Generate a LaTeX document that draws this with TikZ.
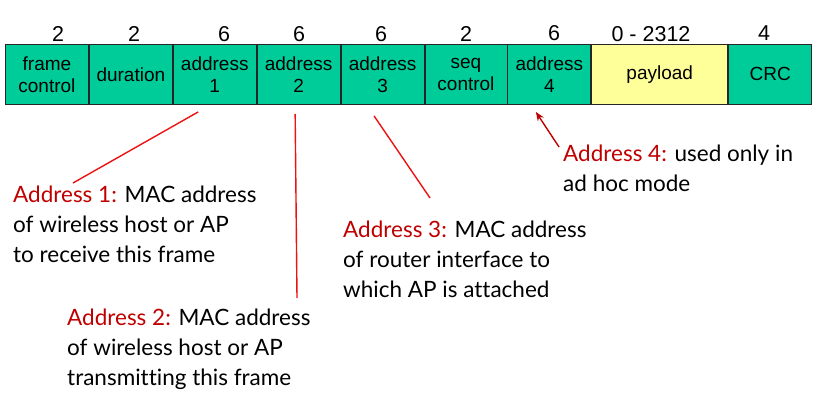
\documentclass[tikz,border=0pt]{standalone}
\usepackage{fontspec}
\setmainfont[Ligatures=NoCommon]{Lato}
\newfontfamily\arialf{Liberation Sans}
\usetikzlibrary{arrows.meta,calc}
\definecolor{cellgreen}{HTML}{00CC99}
\definecolor{payyellow}{HTML}{FFFF99}
\definecolor{annred}{HTML}{C00000}
\definecolor{linered}{HTML}{EE1111}
\begin{document}
\begin{tikzpicture}[x=1pt,y=-1pt,
  cell/.style={draw=black!85, line width=0.9pt, fill=cellgreen, minimum height=60pt,
    inner sep=0pt, align=center, anchor=north west,
    font=\arialf\fontsize{19}{22}\selectfont},
  size/.style={anchor=base, inner sep=0pt, font=\arialf\fontsize{21.5}{24}\selectfont},
  ann/.style={anchor=base west, inner sep=0pt, align=left,
    font=\fontsize{22.5}{30}\selectfont},
  conn/.style={draw=linered, line width=1.4pt},
  arr/.style={draw=annred, line width=1.4pt, -{Stealth[length=9pt,width=7pt]}}
]
\useasboundingbox (0,0) rectangle (821,411);
% frame cells
\node[cell, minimum width=83pt] (fc) at (5,44) {frame\\control};
\node[cell, minimum width=83pt] (dur) at (fc.north east) {duration};
\node[cell, minimum width=83pt] (a1) at (dur.north east) {address\\1};
\node[cell, minimum width=83pt] (a2) at (a1.north east) {address\\2};
\node[cell, minimum width=83pt] (a3) at (a2.north east) {address\\3};
\node[cell, minimum width=82pt] (seq) at (a3.north east) {seq\\control};
\node[cell, minimum width=83pt] (a4) at (seq.north east) {address\\4};
\node[cell, minimum width=136pt, fill=payyellow] (pl) at (a4.north east) {payload};
\node[cell, minimum width=83pt] (crc) at (pl.north east) {CRC};
% sizes
\node[size] (s1) at (58,42) {2};
\node[size] (s2) at (134,42) {2};
\node[size] (s3) at (224,42) {6};
\node[size] (s4) at (299,42) {6};
\node[size] (s5) at (381,42) {6};
\node[size] (s6) at (466,42) {2};
\node[size] (s7) at (554,41) {6};
\node[size] (s8) at (651,42) {0 - 2312};
\node[size] (s9) at (764,41) {4};
% annotations (anchor = baseline of the last line)
\node[ann] (t1) at (13,263) {\textcolor{annred}{Address 1:} MAC address\\of wireless host or AP\\to receive this frame};
\node[ann] (t2) at (67,385) {\textcolor{annred}{Address 2:} MAC address\\of wireless host or AP\\transmitting this frame};
\node[ann] (t3) at (343,298) {\textcolor{annred}{Address 3:} MAC address\\of router interface to\\which AP is attached};
\node[ann] (t4) at (563,192) {\textcolor{annred}{Address 4:} used only in\\ad hoc mode};
% connectors
\draw[conn] ($(a1.south)+(-16.5,7)$) -- ($(t1.base west)+(60,-80)$);
\draw[conn] ($(a2.south)+(-3.5,9)$) -- ($(t2.base west)+(230,-87)$);
\draw[conn] ($(a3.south)+(-8.5,11)$) -- ($(t3.base west)+(87,-100)$);
\draw[arr] ($(t4.base west)+(-4,-45)$) -- ($(a4.south)+(-13.5,7)$);
\end{tikzpicture}
\end{document}
